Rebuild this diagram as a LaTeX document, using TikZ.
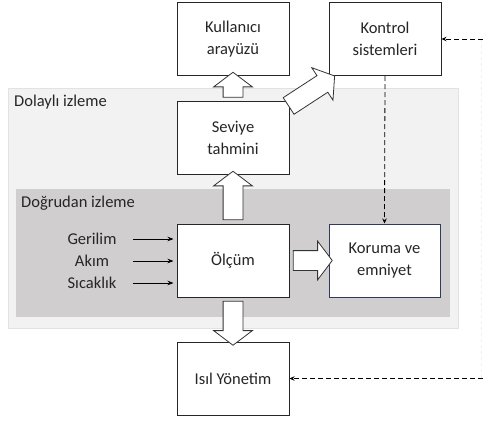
\documentclass[tikz,border=0pt]{standalone}
\usepackage{fontspec}
\setmainfont{Carlito}
\usetikzlibrary{shapes.arrows,calc,arrows.meta}

\definecolor{outerbg}{HTML}{F2F2F2}
\definecolor{outerline}{HTML}{E2E2E2}
\definecolor{innerbg}{HTML}{D0CECE}
\definecolor{navyline}{HTML}{2F3B5C}
\definecolor{txt}{HTML}{262626}

% hollow block arrow between two points
\newcommand{\fatarrow}[2]{%
  \path let \p1=(#1), \p2=(#2), \n1={atan2(\y2-\y1,\x2-\x1)}, \n2={veclen(\x2-\x1,\y2-\y1)} in
    (#1) -- (#2) node[midway, fat, minimum height=\n2, rotate=\n1] {};}

\begin{document}
\begin{tikzpicture}[x=1pt,y=-1pt,font=\fontsize{16.5}{22}\selectfont,text=txt,
  box/.style={draw=black!85,fill=white,line width=1pt,minimum width=112pt,minimum height=73pt,align=center,inner sep=0pt},
  fat/.style={draw=black!80,fill=white,line width=0.8pt,single arrow,inner xsep=0pt,inner ysep=9.5pt,
    single arrow head extend=9.5pt,single arrow tip angle=106,outer sep=0pt},
  inarr/.style={line width=0.8pt,-{Stealth[length=6pt,width=4.5pt]},shorten >=3pt},
  ctl/.style={dashed,dash pattern=on 5pt off 3pt,line width=0.8pt,-{Stealth[length=5pt,width=4.5pt]}}]
  \useasboundingbox (0,0) rectangle (483,421);

  %monitoring areas
  \draw[outerline,fill=outerbg,line width=1pt] (8,88) rectangle (458,328);
  \fill[innerbg] (16,189) rectangle (450,317);
  \node[anchor=west,inner sep=0pt] (dol) at (14,102) {Dolaylı izleme};
  \node[anchor=west,inner sep=0pt] (dog) at (21,203) {Doğrudan izleme};

  %blocks
  \node[box] (kul) at (233,39) {Kullanıcı\\arayüzü};
  \node[box] (kon) at (385,39) {Kontrol\\sistemleri};
  \node[box] (sev) at (233,138) {Seviye\\tahmini};
  \node[box] (olc) at (233,260.5) {Ölçüm};
  \node[box,draw=navyline,minimum width=111pt] (kor) at (384.5,260.5) {Koruma ve\\emniyet};
  \node[box] (isil) at (233,378.5) {Isıl Yönetim};

  %inputs
  \node (ger) at (92,239) {Gerilim};
  \node (akm) at (92,261) {Akım};
  \node (sck) at (92,283) {Sıcaklık};
  \coordinate (inx) at (133,0);
  \foreach \n in {ger,akm,sck}
    \draw[inarr] (\n.east -| inx) -- (\n.east -| olc.west);

  %block arrows
  \fatarrow{sev.north}{kul.south}
  \fatarrow{olc.north}{sev.south}
  \fatarrow{olc.south}{isil.north}
  \fatarrow{olc.east}{kor.west}
  \fatarrow{$(sev.north east)+(-4,7)$}{$(kon.south west)+(3,2)$}

  %control signals
  \coordinate (rtop) at (483,39);
  \coordinate (rbot) at (483,378.5);
  \draw[dashed,gray!12,line width=0.8pt] (481.5,39) -- (481.5,378.5);
  \draw[ctl] (rtop) -- (kon.east);
  \draw[ctl] (rbot) -- (isil.east);
  \draw[ctl] (kon.south) -- (kor.north);
\end{tikzpicture}
\end{document}
